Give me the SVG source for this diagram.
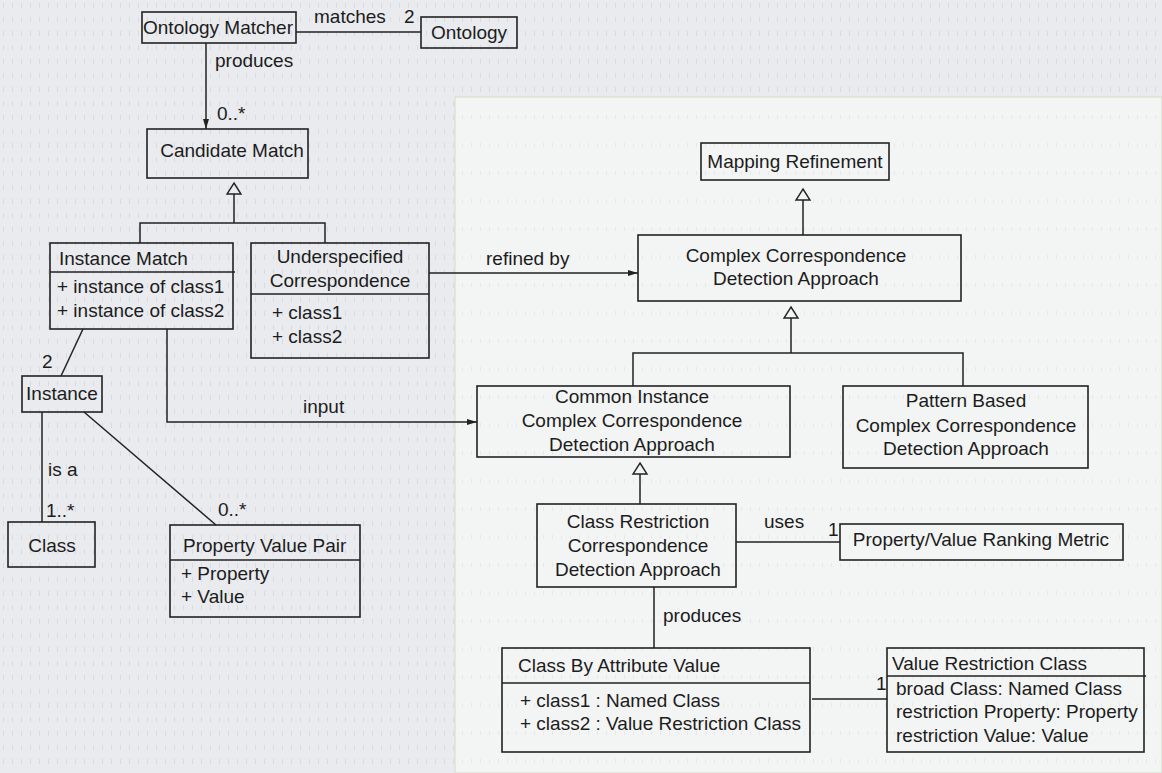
<svg xmlns="http://www.w3.org/2000/svg" width="1162" height="773" viewBox="0 0 1162 773">
  <defs>
    <!-- faint scan-line texture for the page background -->
    <pattern id="scan" x="0" y="0" width="9" height="14" patternUnits="userSpaceOnUse">
      <rect width="9" height="14" fill="#e9ebee"/>
      <rect x="3" y="3" width="1" height="5" fill="#d8dbe0"/>
    </pattern>
    <pattern id="scanLight" x="0" y="0" width="9" height="28" patternUnits="userSpaceOnUse">
      <rect width="9" height="28" fill="#f3f4f4"/>
      <rect x="3" y="3" width="1" height="4" fill="#e6e8ea"/>
    </pattern>
    <!-- plain arrowhead for directed associations -->
    <marker id="arrow" viewBox="0 0 10 8" refX="10" refY="4" markerWidth="10" markerHeight="8" markerUnits="userSpaceOnUse" orient="auto">
      <path d="M0,1 L10,4 L0,7 Z" fill="#222"/>
    </marker>
    <!-- hollow generalization triangle, tip at origin, pointing up -->
    <path id="gen" d="M0,0 L7,11 L-7,11 Z" fill="none" stroke="#222" stroke-width="1.4"/>
  </defs>
  <style>
    .box { fill: none; stroke: #222; stroke-width: 1.6; }
    .line { fill: none; stroke: #222; stroke-width: 1.5; }
    text { font-family: "Liberation Sans", Arial, sans-serif; font-size: 19px; fill: #1c1c1c; }
    .c { text-anchor: middle; }
  </style>

  <!-- background -->
  <rect x="0" y="0" width="1162" height="773" fill="url(#scan)"/>
  <rect x="455" y="97" width="707" height="676" fill="url(#scanLight)" stroke="#d9e0cc" stroke-width="1.2"/>

  <!-- connectors -->
  <g id="connectors">
    <!-- Ontology Matcher matches Ontology -->
    <line class="line" x1="296" y1="32" x2="421" y2="32"/>
    <text x="314" y="23">matches</text>
    <text x="404" y="23">2</text>

    <!-- Ontology Matcher produces Candidate Match -->
    <line class="line" x1="206" y1="43" x2="206" y2="129" marker-end="url(#arrow)"/>
    <text x="215" y="67">produces</text>
    <text x="217" y="120">0..*</text>

    <!-- generalization to Candidate Match -->
    <use href="#gen" x="234" y="183"/>
    <polyline class="line" points="234,194 234,223"/>
    <polyline class="line" points="140,243 140,223 325,223 325,243"/>

    <!-- Underspecified Correspondence refined by Complex Correspondence Detection Approach -->
    <line class="line" x1="429" y1="273" x2="638" y2="273" marker-end="url(#arrow)"/>
    <text x="486" y="265">refined by</text>

    <!-- Instance Match to Instance -->
    <line class="line" x1="83" y1="329" x2="61" y2="376"/>
    <text x="42" y="368">2</text>

    <!-- Instance Match input to Common Instance approach -->
    <polyline class="line" points="167,329 167,422 477,422" marker-end="url(#arrow)"/>
    <text x="303" y="413">input</text>

    <!-- Instance is a Class -->
    <line class="line" x1="42" y1="412" x2="42" y2="522"/>
    <text x="48" y="476">is a</text>
    <text x="46" y="517">1..*</text>

    <!-- Instance to Property Value Pair -->
    <line class="line" x1="84" y1="412" x2="216" y2="525"/>
    <text x="218" y="516">0..*</text>

    <!-- generalization to Mapping Refinement -->
    <use href="#gen" x="803" y="189"/>
    <line class="line" x1="803" y1="200" x2="803" y2="235"/>

    <!-- generalization to Complex Correspondence Detection Approach -->
    <use href="#gen" x="791" y="307"/>
    <line class="line" x1="791" y1="318" x2="791" y2="353"/>
    <polyline class="line" points="633,386 633,353 963,353 963,386"/>

    <!-- generalization to Common Instance approach -->
    <use href="#gen" x="640" y="463"/>
    <line class="line" x1="640" y1="474" x2="640" y2="504"/>

    <!-- Class Restriction approach uses ranking metric -->
    <line class="line" x1="736" y1="542" x2="840" y2="542"/>
    <text x="764" y="528">uses</text>
    <text x="828" y="536">1</text>

    <!-- Class Restriction approach produces Class By Attribute Value -->
    <line class="line" x1="654" y1="587" x2="654" y2="648"/>
    <text x="663" y="622">produces</text>

    <!-- Class By Attribute Value to Value Restriction Class -->
    <line class="line" x1="812" y1="699" x2="887" y2="699"/>
    <text x="876" y="690">1</text>
  </g>

  <!-- nodes -->
  <g id="ontology-matcher">
    <rect class="box" x="142" y="12" width="154" height="31"/>
    <text class="c" x="218" y="34">Ontology Matcher</text>
  </g>

  <g id="ontology">
    <rect class="box" x="421" y="17" width="96" height="31"/>
    <text class="c" x="469" y="39">Ontology</text>
  </g>

  <g id="candidate-match">
    <rect class="box" x="147" y="129" width="161" height="49"/>
    <text class="c" x="232" y="157">Candidate Match</text>
  </g>

  <g id="instance-match">
    <rect class="box" x="50" y="243" width="183" height="86"/>
    <line class="box" x1="50" y1="272" x2="235" y2="272"/>
    <text x="59" y="265">Instance Match</text>
    <text x="57" y="293">+ instance of class1</text>
    <text x="57" y="317">+ instance of class2</text>
  </g>

  <g id="underspecified-correspondence">
    <rect class="box" x="251" y="243" width="178" height="115"/>
    <line class="box" x1="251" y1="294" x2="429" y2="294"/>
    <text class="c" x="340" y="263">Underspecified</text>
    <text class="c" x="340" y="287">Correspondence</text>
    <text x="272" y="319">+ class1</text>
    <text x="272" y="343">+ class2</text>
  </g>

  <g id="instance">
    <rect class="box" x="22" y="376" width="80" height="36"/>
    <text class="c" x="62" y="400">Instance</text>
  </g>

  <g id="class">
    <rect class="box" x="8" y="522" width="87" height="45"/>
    <text class="c" x="52" y="552">Class</text>
  </g>

  <g id="property-value-pair">
    <rect class="box" x="170" y="525" width="190" height="92"/>
    <line class="box" x1="170" y1="560" x2="360" y2="560"/>
    <text x="183" y="552">Property Value Pair</text>
    <text x="181" y="580">+ Property</text>
    <text x="181" y="603">+ Value</text>
  </g>

  <g id="mapping-refinement">
    <rect class="box" x="701" y="143" width="188" height="37"/>
    <text class="c" x="795" y="168">Mapping Refinement</text>
  </g>

  <g id="complex-correspondence">
    <rect class="box" x="638" y="235" width="323" height="66"/>
    <text class="c" x="796" y="262">Complex Correspondence</text>
    <text class="c" x="796" y="285">Detection Approach</text>
  </g>

  <g id="common-instance">
    <rect class="box" x="477" y="386" width="313" height="71"/>
    <text class="c" x="632" y="403">Common Instance</text>
    <text class="c" x="632" y="427">Complex Correspondence</text>
    <text class="c" x="632" y="451">Detection Approach</text>
  </g>

  <g id="pattern-based">
    <rect class="box" x="843" y="386" width="245" height="82"/>
    <text class="c" x="966" y="407">Pattern Based</text>
    <text class="c" x="966" y="432">Complex Correspondence</text>
    <text class="c" x="966" y="455">Detection Approach</text>
  </g>

  <g id="class-restriction">
    <rect class="box" x="537" y="504" width="199" height="83"/>
    <text class="c" x="638" y="528">Class Restriction</text>
    <text class="c" x="638" y="552">Correspondence</text>
    <text class="c" x="638" y="576">Detection Approach</text>
  </g>

  <g id="ranking-metric">
    <rect class="box" x="840" y="524" width="283" height="36"/>
    <text class="c" x="981" y="546">Property/Value Ranking Metric</text>
  </g>

  <g id="class-by-attribute-value">
    <rect class="box" x="502" y="648" width="308" height="104"/>
    <line class="box" x1="502" y1="683" x2="810" y2="683"/>
    <text x="518" y="672">Class By Attribute Value</text>
    <text x="520" y="707">+ class1 : Named Class</text>
    <text x="520" y="730">+ class2 : Value Restriction Class</text>
  </g>

  <g id="value-restriction-class">
    <rect class="box" x="887" y="648" width="257" height="104"/>
    <line class="box" x1="887" y1="676" x2="1146" y2="676"/>
    <text x="892" y="670">Value Restriction Class</text>
    <text x="896" y="695">broad Class: Named Class</text>
    <text x="896" y="718">restriction Property: Property</text>
    <text x="896" y="742">restriction Value: Value</text>
  </g>
</svg>
